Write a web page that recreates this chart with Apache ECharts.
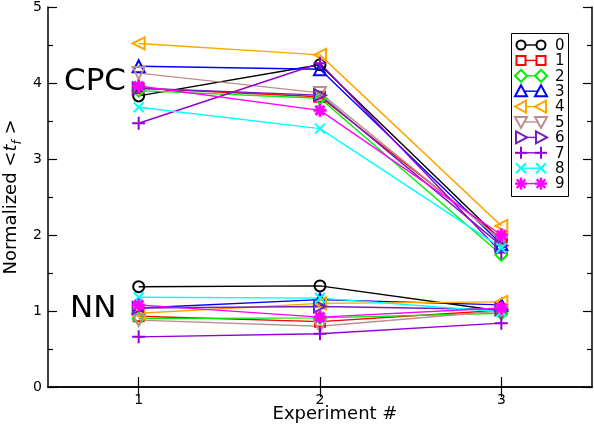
<!DOCTYPE html>
<html><head><meta charset="utf-8">
<script src="https://cdn.jsdelivr.net/npm/echarts@6/dist/echarts.min.js"></script>
<style>html,body{margin:0;padding:0;background:#fff}#c{width:594px;height:426px}</style>
</head><body><div id="c"></div>
<script>
// ---- data ----
const experiments = ['1', '2', '3'];
const runs = ['0', '1', '2', '3', '4', '5', '6', '7', '8', '9'];
// CPC group, value of each run (0..9) per experiment
const cpcExp1 = [3.83, 3.93, 3.90, 4.22, 4.52, 4.13, 3.93, 3.47, 3.68, 3.96];
const cpcExp2 = [4.24, 3.82, 3.80, 4.18, 4.37, 3.87, 3.84, 4.26, 3.40, 3.64];
const cpcExp3 = [1.93, 1.95, 1.74, 1.88, 2.12, 1.93, 1.86, 1.77, 1.83, 2.00];
// NN group
const nnExp1 = [1.32, 0.93, 0.90, 1.04, 0.97, 0.88, 1.04, 0.66, 1.18, 1.08];
const nnExp2 = [1.33, 0.86, 0.91, 1.15, 1.10, 0.80, 1.06, 0.70, 1.17, 0.92];
const nnExp3 = [1.00, 1.01, 0.97, 1.08, 1.12, 1.00, 1.02, 0.84, 0.99, 1.04];
const yTickLabels = ['0', '1', '2', '3', '4', '5'];

// ---- styles ----
const FONT = 'DejaVu Sans';
const colors = ['#000000', '#ff0000', '#00ee00', '#0000ff', '#ffa500',
  '#bc8f8f', '#7221bc', '#9400d3', '#00ffff', '#ff00ff'];
const PLUS = 'path://M0,5L10,5M5,0L5,10';
const CROSS = 'path://M0,0L10,10M10,0L0,10';
const STAR = 'path://M5,0L5,10M0,5L10,5M1.5,1.5L8.5,8.5M8.5,1.5L1.5,8.5';
const symbols = [
  { s: 'circle', size: 11, rot: 0 },
  { s: 'rect', size: 10, rot: 0 },
  { s: 'diamond', size: 12, rot: 0 },
  { s: 'triangle', size: 12, rot: 0 },
  { s: 'triangle', size: 12, rot: 90 },
  { s: 'triangle', size: 12, rot: 180 },
  { s: 'triangle', size: 12, rot: -90 },
  { s: PLUS, size: 13, rot: 0 },
  { s: CROSS, size: 10, rot: 0 },
  { s: STAR, size: 13, rot: 0 }
];

const series = [];
const groups = [[cpcExp1, cpcExp2, cpcExp3], [nnExp1, nnExp2, nnExp3]];
groups.forEach(function (g) {
  runs.forEach(function (name, r) {
    const sym = symbols[r];
    const isFilled = r === 9;
    series.push({
      type: 'line', name: name,
      data: [g[0][r], g[1][r], g[2][r]],
      symbol: sym.s, symbolSize: sym.size, symbolRotate: sym.rot,
      showAllSymbol: true,
      lineStyle: { color: colors[r], width: 1.4 },
      itemStyle: { color: isFilled ? colors[r] : 'rgba(255,255,255,0)', borderColor: colors[r], borderWidth: isFilled ? 3 : 2 },
      emphasis: { disabled: true },
      animation: false, silent: true
    });
  });
});

// ---- hand-built legend (symbol - line - symbol, label) ----
function legendSym(r, cx, cy) {
  const c = colors[r];
  const st = { fill: '#fff', stroke: c, lineWidth: 2 };
  const L = function (x1, y1, x2, y2, w) { return { type: 'line', shape: { x1: x1, y1: y1, x2: x2, y2: y2 }, style: { stroke: c, lineWidth: w || 2 } }; };
  const P = function (pts) { return [{ type: 'polygon', shape: { points: pts }, style: st }]; };
  switch (r) {
    case 0: return [{ type: 'circle', shape: { cx: cx, cy: cy, r: 4.5 }, style: st }];
    case 1: return [{ type: 'rect', shape: { x: cx - 4.5, y: cy - 4.5, width: 9, height: 9 }, style: st }];
    case 2: return P([[cx, cy - 6], [cx + 6, cy], [cx, cy + 6], [cx - 6, cy]]);
    case 3: return P([[cx, cy - 6], [cx + 6, cy + 5], [cx - 6, cy + 5]]);
    case 4: return P([[cx - 6, cy], [cx + 5, cy - 6], [cx + 5, cy + 6]]);
    case 5: return P([[cx, cy + 6], [cx + 6, cy - 5], [cx - 6, cy - 5]]);
    case 6: return P([[cx + 6, cy], [cx - 5, cy - 6], [cx - 5, cy + 6]]);
    case 7: return [L(cx - 6, cy, cx + 6, cy), L(cx, cy - 6, cx, cy + 6)];
    case 8: return [L(cx - 5, cy - 5, cx + 5, cy + 5), L(cx + 5, cy - 5, cx - 5, cy + 5)];
    default: return [L(cx - 6, cy, cx + 6, cy, 2.4), L(cx, cy - 6, cx, cy + 6, 2.4), L(cx - 4.3, cy - 4.3, cx + 4.3, cy + 4.3, 2.4), L(cx + 4.3, cy - 4.3, cx - 4.3, cy + 4.3, 2.4)];
  }
}
const legendEls = [{ type: 'rect', shape: { x: 511.5, y: 33.5, width: 57, height: 163 }, style: { fill: '#fff', stroke: '#000', lineWidth: 1 }, z: 10 }];
runs.forEach(function (name, r) {
  const y = 45 + r * 15.4;
  legendEls.push({ type: 'line', shape: { x1: 521, y1: y, x2: 541, y2: y }, style: { stroke: colors[r], lineWidth: 1.4 }, z: 11 });
  legendSym(r, 521, y).concat(legendSym(r, 541, y)).forEach(function (e) { e.z = 12; legendEls.push(e); });
  legendEls.push({ type: 'text', x: 555, y: y + 1, style: { text: name, font: '15px "' + FONT + '"', fill: '#000', verticalAlign: 'middle', textAlign: 'left' }, z: 12 });
});
legendEls.push({ type: 'text', x: 64, y: 82, style: { text: 'CPC', font: '31px "' + FONT + '"', fill: '#000', verticalAlign: 'middle' }, z: 5 });
legendEls.push({ type: 'text', x: 70, y: 309, style: { text: 'NN', font: '31px "' + FONT + '"', fill: '#000', verticalAlign: 'middle' }, z: 5 });

const axisLine = { show: true, lineStyle: { color: '#000', width: 1.5 } };
const option = {
  animation: false,
  grid: { left: 48, right: 2, top: 7, bottom: 39, containLabel: false, outerBoundsMode: 'none' },
  xAxis: [{
    type: 'category', data: experiments, boundaryGap: true, position: 'bottom',
    axisLine: axisLine,
    axisTick: { show: true, inside: true, alignWithLabel: true, length: 10, lineStyle: { color: '#000', width: 1.2 } },
    axisLabel: { color: '#000', fontSize: 14, fontFamily: FONT, margin: 6 },
    splitLine: { show: false },
    name: 'Experiment #', nameLocation: 'middle', nameGap: 18, nameMoveOverlap: false,
    nameTextStyle: { color: '#000', fontSize: 18, fontFamily: FONT, padding: [0, 0, 0, 30] }
  }, {
    type: 'category', data: experiments, boundaryGap: true, position: 'top',
    axisLine: axisLine,
    axisTick: { show: true, inside: true, alignWithLabel: true, length: 10, lineStyle: { color: '#000', width: 1.2 } },
    axisLabel: { show: false }, splitLine: { show: false }
  }],
  yAxis: [{
    type: 'value', min: 0, max: 5, interval: 1, position: 'left',
    axisLine: axisLine,
    axisTick: { show: true, inside: true, length: 9, lineStyle: { color: '#000', width: 1.2 } },
    minorTick: { show: true, splitNumber: 2, length: 5, lineStyle: { color: '#000', width: 1.2 } },
    axisLabel: { color: '#000', fontSize: 14, fontFamily: FONT, margin: 6, formatter: function (v) { return yTickLabels[Math.round(v)]; } },
    splitLine: { show: false },
    name: '{a|Normalized <}{t|t}{f|f}{a| >}', nameLocation: 'middle', nameGap: 24, nameRotate: 90, nameMoveOverlap: false,
    nameTextStyle: {
      color: '#000', fontSize: 18, fontFamily: FONT,
      rich: {
        a: { fontSize: 18, fontFamily: FONT, color: '#000', lineHeight: 26, verticalAlign: 'middle' },
        t: { fontSize: 18, fontFamily: FONT, color: '#000', fontStyle: 'italic', lineHeight: 26, verticalAlign: 'middle' },
        f: { fontSize: 12, fontFamily: FONT, color: '#000', fontStyle: 'italic', lineHeight: 26, verticalAlign: 'bottom' }
      }
    }
  }, {
    type: 'value', min: 0, max: 5, interval: 1, position: 'right',
    axisLine: axisLine,
    axisTick: { show: true, inside: true, length: 9, lineStyle: { color: '#000', width: 1.2 } },
    minorTick: { show: true, splitNumber: 2, length: 5, lineStyle: { color: '#000', width: 1.2 } },
    axisLabel: { show: false }, splitLine: { show: false }
  }],
  series: series,
  graphic: legendEls
};
const chart = echarts.init(document.getElementById('c'), null, { renderer: 'canvas' });
chart.setOption(option);
</script>
</body></html>
